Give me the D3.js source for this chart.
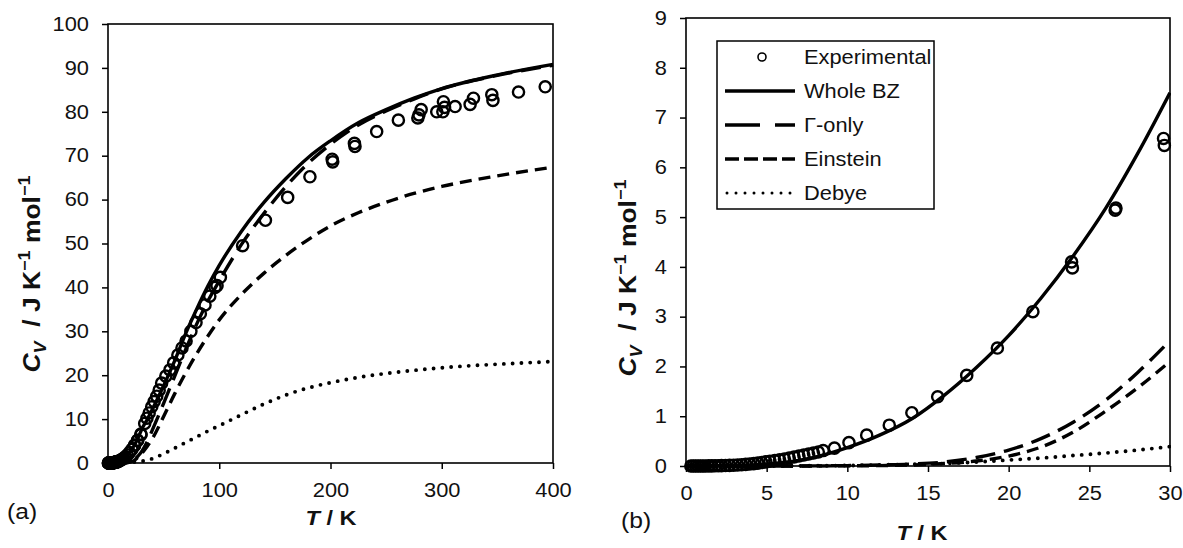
<!DOCTYPE html>
<html lang="en">
<head>
<meta charset="utf-8" />
<title>Heat capacity</title>
<script src="https://cdn.jsdelivr.net/npm/d3@7"></script>
<style>
  body { margin: 0; background: #fff; }
  svg { display: block; font-family: 'Liberation Sans', Arial, sans-serif; }
  text { white-space: pre; }
</style>
</head>
<body>
<svg id="chart" width="1183" height="548"></svg>
<script>
// temperature grid for the model curves (K)
const tGrid = [0, 2, 4, 6, 8, 10, 12, 14, 16, 18, 20, 22, 24, 26, 28, 30, 35, 40, 50, 60, 70, 80, 90, 100, 120, 140, 160, 180, 200, 225, 250, 275, 300, 350, 400]

const wholeBZ = [0, 0.004, 0.02, 0.07, 0.18, 0.37, 0.62, 0.95, 1.42, 1.98, 2.62, 3.37, 4.22, 5.17, 6.28, 7.5, 9.8, 12.3, 17.6, 23.3, 29.6, 35.2, 40.4, 45, 52.8, 59.3, 64.8, 69.6, 73.4, 77.5, 80.5, 83.1, 85.3, 88.4, 90.8]
const gammaOnly = [0, 0, 0, 0, 0.002, 0.008, 0.02, 0.04, 0.08, 0.17, 0.32, 0.55, 0.88, 1.32, 1.88, 2.52, 4.7, 7.6, 13.6, 19.8, 26, 31.8, 37, 41.5, 49.8, 56.8, 63, 68.3, 72.6, 77, 80.2, 82.9, 85.2, 88.3, 90.6]
const einstein = [0, 0, 0, 0, 0.001, 0.003, 0.008, 0.02, 0.05, 0.1, 0.2, 0.38, 0.68, 1.1, 1.57, 2.1, 3.7, 5.6, 10.6, 15.8, 20.6, 25, 29, 32.6, 38.4, 43.2, 47.3, 50.9, 54, 57, 59.4, 61.4, 63, 65.4, 67.4]
const debye = [0, 0, 0.001, 0.002, 0.005, 0.01, 0.02, 0.035, 0.05, 0.08, 0.12, 0.16, 0.21, 0.26, 0.32, 0.39, 0.6, 1.0, 2.1, 3.4, 4.7, 6.0, 7.3, 8.5, 11, 13.4, 15.5, 17.1, 18.3, 19.5, 20.4, 21.1, 21.7, 22.5, 23.1]

// experimental points
const expT = [0.3, 0.45, 0.6, 0.75, 0.9, 1.05, 1.2, 1.4, 1.6, 1.8, 2.0, 2.2, 2.45, 2.7, 2.95, 3.2, 3.45, 3.7, 3.95, 4.2, 4.45, 4.7, 4.95, 5.2, 5.5, 5.8, 6.1, 6.4, 6.7, 7.0, 7.3, 7.6, 7.9, 8.2, 8.5, 9.2, 10.1, 11.2, 12.6, 14.0, 15.6, 17.4, 19.3, 21.5, 23.9, 23.95, 26.6, 26.65, 29.6, 29.65, 33, 35, 37, 39.3, 41.5, 43.8, 46, 48.2, 52, 55.7, 59, 62.8, 66.5, 70.2, 74.5, 79.1, 83, 87.2, 91.5, 96.2, 98, 101, 121, 141.5, 161.5, 181.5, 201.5, 202, 221.5, 222, 241.5, 261, 278.5, 279.5, 281.5, 295.5, 301, 301.5, 302.5, 312, 325.5, 328.5, 345, 346, 369, 393]
const expCv = [0, 0, 0, 0, 0, 0.001, 0.001, 0.002, 0.003, 0.004, 0.005, 0.007, 0.009, 0.012, 0.016, 0.02, 0.025, 0.032, 0.04, 0.048, 0.058, 0.07, 0.082, 0.095, 0.11, 0.125, 0.14, 0.16, 0.18, 0.2, 0.22, 0.24, 0.26, 0.28, 0.31, 0.36, 0.47, 0.62, 0.82, 1.07, 1.39, 1.82, 2.37, 3.1, 4.1, 3.98, 5.14, 5.18, 6.58, 6.44, 9.0, 10.2, 11.4, 12.8, 14.0, 15.2, 16.6, 18.2, 19.8, 21.2, 22.8, 24.6, 26.2, 27.8, 30, 32, 34, 36, 38, 40, 40.4, 42.3, 49.5, 55.3, 60.5, 65.2, 69.2, 68.6, 72.8, 72.1, 75.5, 78.1, 78.6, 79.3, 80.5, 80.0, 80.0, 82.3, 81.0, 81.2, 81.7, 83.1, 83.9, 82.6, 84.5, 85.7]

// tick values
const xTicksA = [0, 100, 200, 300, 400]
const yTicksA = [0, 10, 20, 30, 40, 50, 60, 70, 80, 90, 100]
const xTicksB = [0, 5, 10, 15, 20, 25, 30]
const yTicksB = [0, 1, 2, 3, 4, 5, 6, 7, 8, 9]

const legendNames = ['Experimental', 'Whole BZ', 'Γ-only', 'Einstein', 'Debye']

const series = [
  { name: 'Whole BZ', values: wholeBZ, dash: null, legendDash: null },
  { name: 'Γ-only', values: gammaOnly, dash: '20,9', legendDash: '35,15' },
  { name: 'Einstein', values: einstein, dash: '12,7', legendDash: '14,5' },
  { name: 'Debye', values: debye, dash: '0,8.8', legendDash: '0,9' }
]

const svg = d3.select('#chart')
const SX = 1.12 // text in the reference is drawn a little wide
const FS = 19.5

function richText(sel, parts, fs) {
  let cur = 0
  parts.forEach((p) => {
    const target = p.shift === 'sub' ? 0.28 : p.shift === 'sup' ? -0.42 : 0
    const ts = sel.append('tspan').text(p.t)
    if (p.italic) ts.attr('font-style', 'italic')
    if (p.shift) ts.attr('font-size', fs * 0.68)
    if (target !== cur) ts.attr('dy', (target - cur) * fs)
    cur = target
  })
}

function wideText(parent, x, y, anchor, fs) {
  return parent
    .append('g')
    .attr('transform', 'translate(' + x + ',' + y + ')')
    .append('text')
    .attr('transform', 'scale(' + SX + ',1)')
    .attr('text-anchor', anchor || 'start')
    .attr('dy', '0.35em')
    .attr('font-size', fs || FS)
    .attr('fill', '#111')
}

function drawPanel(p) {
  const x = d3.scaleLinear().domain(p.xDomain).range([p.left, p.left + p.width])
  const y = d3.scaleLinear().domain(p.yDomain).range([p.top + p.height, p.top])
  const g = svg.append('g')

  const clipId = 'clip-' + p.label.replace(/\W/g, '')
  g.append('clipPath')
    .attr('id', clipId)
    .append('rect')
    .attr('x', p.left)
    .attr('y', p.top - 6)
    .attr('width', p.width + 1)
    .attr('height', p.height + 12)

  // axes
  const xAxis = g
    .append('g')
    .attr('transform', 'translate(0,' + (p.top + p.height) + ')')
    .call(d3.axisBottom(x).tickValues(p.xTicks).tickSize(6).tickSizeOuter(0))
  const yAxis = g
    .append('g')
    .attr('transform', 'translate(' + p.left + ',0)')
    .call(d3.axisLeft(y).tickValues(p.yTicks).tickSize(6).tickSizeOuter(0))
  ;[xAxis, yAxis].forEach((a) => {
    a.select('.domain').remove()
    a.selectAll('line').attr('stroke', '#000').attr('stroke-width', 1.5)
    a.selectAll('text')
      .attr('font-size', FS)
      .attr('font-family', "'Liberation Sans', Arial, sans-serif")
      .attr('fill', '#111')
      .attr('transform', 'scale(' + SX + ',1)')
  })
  yAxis.selectAll('text').attr('x', -19 / SX)
  xAxis.selectAll('text').attr('y', 20)

  // frame
  g.append('rect')
    .attr('x', p.left)
    .attr('y', p.top)
    .attr('width', p.width)
    .attr('height', p.height)
    .attr('fill', 'none')
    .attr('stroke', '#000')
    .attr('stroke-width', 1.6)

  // model curves
  const line = d3
    .line()
    .x((d) => x(d[0]))
    .y((d) => y(d[1]))
    .curve(d3.curveMonotoneX)
  const curves = g.append('g').attr('clip-path', 'url(#' + clipId + ')')
  series.forEach((s) => {
    const pts = tGrid.map((t, i) => [t, s.values[i]]).filter((d) => d[0] <= p.xDomain[1])
    const path = curves
      .append('path')
      .datum(pts)
      .attr('d', line)
      .attr('fill', 'none')
      .attr('stroke', '#000')
      .attr('stroke-width', s.name === 'Debye' ? 3.9 : 3.4)
    if (s.dash) path.attr('stroke-dasharray', s.dash)
    if (s.name === 'Debye') path.attr('stroke-linecap', 'round')
  })

  // experimental points
  const pts = expT.map((t, i) => [t, expCv[i]]).filter((d) => d[0] <= p.xDomain[1])
  g.append('g')
    .selectAll('circle')
    .data(pts)
    .join('circle')
    .attr('cx', (d) => x(d[0]))
    .attr('cy', (d) => y(d[1]))
    .attr('r', 5.6)
    .attr('fill', 'none')
    .attr('stroke', '#000')
    .attr('stroke-width', 2.4)

  // titles
  const xt = wideText(g, p.xTitleX, p.xTitleY, 'middle', 21).attr('font-weight', 'bold')
  richText(xt, [{ t: 'T', italic: true }, { t: ' / K' }], 21)

  const yt = g
    .append('text')
    .attr('transform', 'translate(' + p.yTitleX + ',' + p.yTitleY + ') rotate(-90) scale(1.15,1)')
    .attr('text-anchor', 'middle')
    .attr('dy', '0.35em')
    .attr('font-size', 23)
    .attr('font-weight', 'bold')
    .attr('fill', '#111')
  richText(
    yt,
    [
      { t: 'C', italic: true },
      { t: 'V', italic: true, shift: 'sub' },
      { t: '  / J K' },
      { t: '−1', shift: 'sup' },
      { t: ' mol' },
      { t: '−1', shift: 'sup' }
    ],
    23
  )

  wideText(g, p.labelX, p.labelY, 'start', 22).text(p.label)
  return { x, y, g }
}

drawPanel({
  left: 108, top: 24, width: 445, height: 439,
  xDomain: [0, 400], yDomain: [0, 100], xTicks: xTicksA, yTicks: yTicksA,
  label: '(a)', labelX: 7, labelY: 511,
  xTitleX: 331, xTitleY: 518, yTitleX: 32, yTitleY: 274
})

drawPanel({
  left: 686, top: 18, width: 484, height: 448,
  xDomain: [0, 30], yDomain: [0, 9], xTicks: xTicksB, yTicks: yTicksB,
  label: '(b)', labelX: 621, labelY: 520,
  xTitleX: 922, xTitleY: 533, yTitleX: 628, yTitleY: 278
})

// legend (panel b)
const lg = svg.append('g')
lg.append('rect')
  .attr('x', 717)
  .attr('y', 41)
  .attr('width', 217)
  .attr('height', 168)
  .attr('fill', '#fff')
  .attr('stroke', '#000')
  .attr('stroke-width', 1.5)

const rowY = d3.scalePoint().domain(legendNames).range([57, 193])
lg.append('circle')
  .attr('cx', 762)
  .attr('cy', rowY('Experimental'))
  .attr('r', 4)
  .attr('fill', 'none')
  .attr('stroke', '#000')
  .attr('stroke-width', 1.6)
series.forEach((s) => {
  const l = lg
    .append('line')
    .attr('x1', s.name === 'Debye' ? 727 : 725)
    .attr('x2', 795)
    .attr('y1', rowY(s.name))
    .attr('y2', rowY(s.name))
    .attr('stroke', '#000')
    .attr('stroke-width', s.name === 'Debye' ? 3 : 3.4)
  if (s.legendDash) l.attr('stroke-dasharray', s.legendDash)
  if (s.name === 'Debye') l.attr('stroke-linecap', 'round')
})
legendNames.forEach((n) => {
  wideText(lg, 804, rowY(n), 'start').text(n)
})
</script>
</body>
</html>
